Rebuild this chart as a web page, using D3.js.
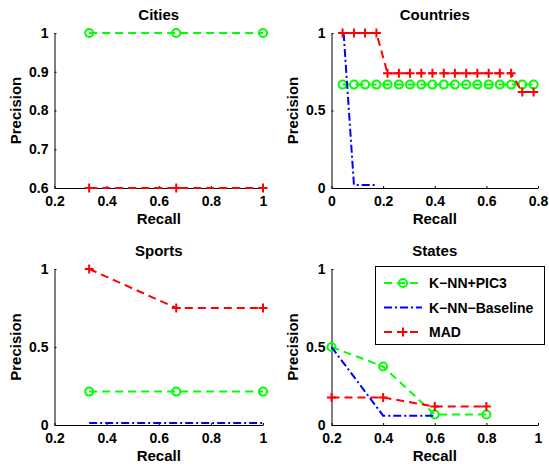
<!DOCTYPE html>
<html>
<head>
<meta charset="utf-8">
<script src="https://cdn.jsdelivr.net/npm/d3@7"></script>
<style>
  body { margin: 0; background: #fff; }
  text { font-family: "Liberation Sans", Arial, sans-serif; font-weight: bold; fill: #000; }
</style>
</head>
<body>
<svg id="chart" width="549" height="464"></svg>
<script>
// recall / precision values
const citiesRecall = [0.333, 0.667, 1];
const citiesPic3 = [1, 1, 1];
const citiesMad = [0.6, 0.6, 0.6];

const countriesRecall = [0.043, 0.087, 0.130, 0.174, 0.217, 0.261, 0.304, 0.348, 0.391,
  0.435, 0.478, 0.522, 0.565, 0.609, 0.652, 0.696, 0.739, 0.783];
const countriesPic3 = [0.667, 0.667, 0.667, 0.667, 0.667, 0.667, 0.667, 0.667, 0.667,
  0.667, 0.667, 0.667, 0.667, 0.667, 0.667, 0.667, 0.667, 0.667];
const countriesMad = [1, 1, 1, 1, 0.74, 0.74, 0.74, 0.74, 0.74,
  0.74, 0.74, 0.74, 0.74, 0.74, 0.74, 0.74, 0.62, 0.62];
const countriesBaseRecall = [0.047, 0.087, 0.130, 0.174];
const countriesBase = [1, 0.02, 0.02, 0.02];

const sportsRecall = [0.333, 0.667, 1];
const sportsPic3 = [0.214, 0.214, 0.214];
const sportsMad = [1, 0.75, 0.75];
const sportsBase = [0.013, 0.013, 0.013];

const statesRecall = [0.2, 0.4, 0.6, 0.8];
const statesPic3 = [0.5, 0.375, 0.067, 0.067];
const statesBaseRecall = [0.2, 0.4, 0.6];
const statesBase = [0.5, 0.06, 0.06];
const statesMad = [0.176, 0.176, 0.118, 0.118];

const ticks02to1 = [0.2, 0.4, 0.6, 0.8, 1];
const ticks0to08 = [0, 0.2, 0.4, 0.6, 0.8];
const ticksCitiesY = [0.6, 0.7, 0.8, 0.9, 1];
const ticks0to1 = [0, 0.5, 1];

const seriesNames = ["K\u2212NN+PIC3", "K\u2212NN\u2212Baseline", "MAD"];

const style = {
  pic3: { color: "#00ff00", dash: "8,5", marker: "circle" },
  base: { color: "#0000ff", dash: "8,3,2,3", marker: null },
  mad:  { color: "#ff0000", dash: "8,5", marker: "plus" }
};

const zip = (xs, ys) => xs.map((x, i) => [x, ys[i]]);

const panels = [
  { title: "Cities", box: [54.5, 263, 33, 188], xd: [0.2, 1], yd: [0.6, 1], xt: ticks02to1, yt: ticksCitiesY,
    series: [["pic3", zip(citiesRecall, citiesPic3)], ["mad", zip(citiesRecall, citiesMad)]] },
  { title: "Countries", box: [331.5, 538, 33, 188], xd: [0, 0.8], yd: [0, 1], xt: ticks0to08, yt: ticks0to1,
    series: [["pic3", zip(countriesRecall, countriesPic3)], ["base", zip(countriesBaseRecall, countriesBase)],
             ["mad", zip(countriesRecall, countriesMad)]] },
  { title: "Sports", box: [54.5, 263, 269, 425], xd: [0.2, 1], yd: [0, 1], xt: ticks02to1, yt: ticks0to1,
    series: [["pic3", zip(sportsRecall, sportsPic3)], ["base", zip(sportsRecall, sportsBase)],
             ["mad", zip(sportsRecall, sportsMad)]] },
  { title: "States", box: [331.5, 538, 269, 425], xd: [0.2, 1], yd: [0, 1], xt: ticks02to1, yt: ticks0to1,
    series: [["pic3", zip(statesRecall, statesPic3)], ["base", zip(statesBaseRecall, statesBase)],
             ["mad", zip(statesRecall, statesMad)]], legend: true }
];

const svg = d3.select("#chart");

function drawMarker(g, type, color, x, y) {
  if (type === "circle") {
    g.append("circle").attr("cx", x).attr("cy", y).attr("r", 4)
      .attr("fill", "none").attr("stroke", color).attr("stroke-width", 2);
  } else if (type === "plus") {
    g.append("path").attr("d", `M${x - 4.5},${y}H${x + 4.5}M${x},${y - 4.5}V${y + 4.5}`)
      .attr("stroke", color).attr("stroke-width", 2);
  }
}

panels.forEach(p => {
  const [x0, x1, y0, y1] = p.box;
  const x = d3.scaleLinear().domain(p.xd).range([x0, x1]);
  const y = d3.scaleLinear().domain(p.yd).range([y1, y0]);
  const g = svg.append("g");

  // axes: only left + bottom, ticks inward
  g.append("g").attr("transform", `translate(0,${y1})`)
    .call(d3.axisBottom(x).tickValues(p.xt).tickSizeInner(-2).tickSizeOuter(0).tickPadding(8).tickFormat(d => String(d)))
    .call(a => a.selectAll("text").attr("font-size", 14).attr("dy", "0.71em"));
  g.append("g").attr("transform", `translate(${x0},0)`)
    .call(d3.axisLeft(y).tickValues(p.yt).tickSizeInner(-2).tickSizeOuter(0).tickPadding(6).tickFormat(d => String(d)))
    .call(a => a.selectAll("text").attr("font-size", 14));
  g.selectAll(".domain, .tick line").attr("stroke", "#000").attr("stroke-width", 1);
  g.selectAll(".tick text").attr("fill", "#000").attr("font-family", "Liberation Sans, Arial, sans-serif").attr("font-weight", "bold");

  const clip = "clip-" + p.title;
  svg.append("clipPath").attr("id", clip).append("rect")
    .attr("x", x0 - 8).attr("y", y0 - 8).attr("width", x1 - x0 + 16).attr("height", y1 - y0 + 16);

  const line = d3.line().x(d => x(d[0])).y(d => y(d[1]));
  p.series.forEach(([key, pts]) => {
    const s = style[key];
    const sg = g.append("g").attr("clip-path", `url(#${clip})`);
    sg.append("path").datum(pts).attr("d", line)
      .attr("fill", "none").attr("stroke", s.color).attr("stroke-width", 2)
      .attr("stroke-dasharray", s.dash);
    pts.forEach(d => drawMarker(sg, s.marker, s.color, x(d[0]), y(d[1])));
  });

  g.append("text").attr("x", (x0 + x1) / 2).attr("y", y0 - 13)
    .attr("text-anchor", "middle").attr("font-size", 15).text(p.title);
  g.append("text").attr("x", (x0 + x1) / 2).attr("y", y1 + 36)
    .attr("text-anchor", "middle").attr("font-size", 15).text("Recall");
  g.append("text").attr("transform", `translate(${x0 - 34},${(y0 + y1) / 2}) rotate(-90)`)
    .attr("text-anchor", "middle").attr("font-size", 15).text("Precision");

  if (p.legend) {
    const lg = g.append("g");
    lg.append("rect").attr("x", 375.5).attr("y", 266.5).attr("width", 169).attr("height", 78)
      .attr("fill", "#fff").attr("stroke", "#000").attr("stroke-width", 1);
    ["pic3", "base", "mad"].forEach((k, i) => {
      const s = style[k];
      const ly = 283 + i * 24.5;
      lg.append("line").attr("x1", 384).attr("x2", 422).attr("y1", ly).attr("y2", ly)
        .attr("stroke", s.color).attr("stroke-width", 2).attr("stroke-dasharray", s.dash);
      drawMarker(lg, s.marker, s.color, 403, ly);
      lg.append("text").attr("x", 429).attr("y", ly + 5).attr("font-size", 14).text(seriesNames[i]);
    });
  }
});
</script>
</body>
</html>
